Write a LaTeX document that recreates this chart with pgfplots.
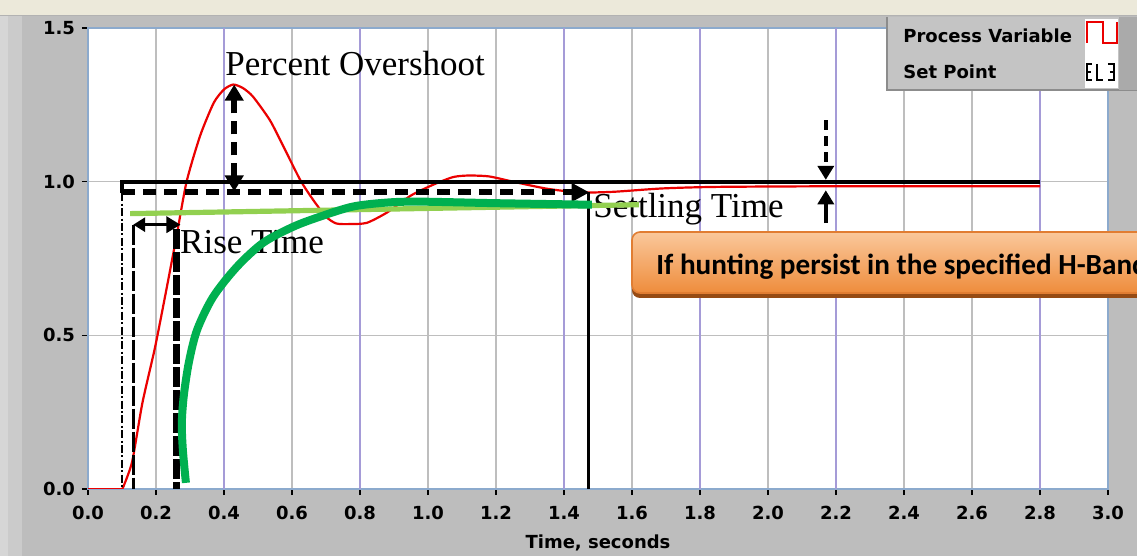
\documentclass[border=0pt]{standalone}
\usepackage{fontspec}
\setmainfont{Liberation Serif}
\newfontfamily\lv{DejaVu Sans}
\newfontfamily\calfont{Carlito}
\usepackage{pgfplots}
\pgfplotsset{compat=1.18}
\usetikzlibrary{arrows.meta}
\definecolor{panel}{RGB}{189,189,189}
\definecolor{beige}{RGB}{236,233,218}
\definecolor{lightstrip}{RGB}{214,214,214}
\definecolor{midstrip}{RGB}{203,203,203}
\definecolor{gridgray}{RGB}{190,190,190}
\definecolor{gridpurple}{RGB}{165,155,215}
\definecolor{frameblue}{RGB}{140,170,205}
\definecolor{pvred}{RGB}{235,0,0}
\definecolor{lgreen}{RGB}{146,208,80}
\definecolor{dgreen}{RGB}{0,176,80}
\definecolor{calltop}{RGB}{250,200,155}
\definecolor{callbot}{RGB}{238,140,60}
\definecolor{callborder}{RGB}{225,125,50}
\definecolor{callshadow}{RGB}{150,75,20}
\definecolor{leggray}{RGB}{196,196,196}
\definecolor{legborder}{RGB}{140,140,140}
\begin{document}
\begin{tikzpicture}
\useasboundingbox (0,0) rectangle (568.5bp,278bp);
\clip (0,0) rectangle (568.5bp,278bp);
\begin{scope}[x=0.5bp,y=-0.5bp,yshift=278bp]
  \fill[panel] (0,0) rectangle (1137,556);
  \fill[beige] (0,0) rectangle (1137,15);
  \fill[lightstrip] (0,15) rectangle (8,556);
  \fill[midstrip] (8,15) rectangle (22,556);
  \draw[gray!60, line width=0.8bp] (0,15.5) -- (1137,15.5);
\end{scope}
\begin{axis}[
  at={(44bp,33.5bp)}, anchor=south west,
  scale only axis, width=510bp, height=230.5bp,
  xmin=0, xmax=3, ymin=0, ymax=1.5,
  xtick={0,0.2,0.4,0.6,0.8,1,1.2,1.4,1.6,1.8,2,2.2,2.4,2.6,2.8,3},
  ytick={0,0.5,1,1.5},
  xtick pos=bottom, ytick pos=left,
  tick align=outside, major tick length=3bp,
  tick style={black, line width=0.8bp},
  grid=major, major grid style={gridgray, line width=0.6bp},
  axis line style={frameblue, line width=0.7bp},
  axis background/.style={fill=white},
  /pgf/number format/assume math mode=true,
  /pgf/number format/.cd, fixed, fixed zerofill, precision=1, /pgfplots/.cd,
  tick label style={font=\lv\bfseries\fontsize{9bp}{10bp}\selectfont},
  xticklabel style={yshift=-2bp},
  xlabel={Time, seconds},
  xlabel style={font=\lv\bfseries\fontsize{9bp}{10bp}\selectfont, at={(axis description cs:0.5,-0.117)}, anchor=center},
]
% purple grid lines
\addplot[gridpurple, line width=0.6bp, ycomb, forget plot, mark=none] coordinates {(0.4,1.5) (0.8,1.5) (1.4,1.5) (1.8,1.5) (2.2,1.5) (2.8,1.5)};
% process variable
\addplot[pvred, line width=1.1bp, mark=none] coordinates {(0,0) (0.10,0)};
\addplot[pvred, line width=1.1bp, mark=none, smooth, tension=0.4] coordinates {
(0.10,0) (0.105,0.01) (0.13,0.09) (0.16,0.28) (0.197,0.46) (0.229,0.64) (0.26,0.82) (0.29,1.00)
(0.33,1.15) (0.37,1.257) (0.40,1.30) (0.427,1.316) (0.455,1.305) (0.485,1.277) (0.535,1.20) (0.575,1.114)
(0.624,1.006) (0.662,0.941) (0.70,0.886) (0.73,0.864) (0.77,0.862) (0.82,0.866) (0.88,0.90) (0.95,0.955)
(1.015,0.99) (1.074,1.015) (1.12,1.02) (1.18,1.017) (1.25,1.00) (1.35,0.977) (1.447,0.965) (1.545,0.967)
(1.69,0.978) (1.85,0.983) (2.2,0.985) (2.8,0.985)};
% annotations
\draw[black, line width=2bp] (axis cs:0.1,0.962) -- (axis cs:0.1,1.0) -- (axis cs:2.8,1.0);
\draw[black, line width=0.7bp, dash pattern=on 4bp off 1.2bp on 1bp off 1.2bp] (axis cs:0.1,0.962) -- (axis cs:0.1,0);
\draw[black, line width=3bp, dash pattern=on 6.5bp off 4bp, -{Triangle[length=9bp,width=9bp]}] (axis cs:0.1,0.965) -- (axis cs:1.475,0.965);
\draw[black, line width=2.8bp, dash pattern=on 6.5bp off 4bp, {Triangle[length=8bp,width=9bp]}-{Triangle[length=8bp,width=9bp]}] (axis cs:0.43,0.968) -- (axis cs:0.43,1.316);
\draw[black, line width=1.6bp, dash pattern=on 10bp off 1.5bp] (axis cs:0.133,0.86) -- (axis cs:0.133,0);
\draw[black, line width=3.3bp, dash pattern=on 10bp off 1.5bp] (axis cs:0.261,0.845) -- (axis cs:0.261,0);
\draw[black, line width=1.6bp, {Triangle[length=6bp,width=7bp]}-{Triangle[length=7bp,width=8bp]}] (axis cs:0.133,0.86) -- (axis cs:0.272,0.86);
\draw[black, line width=1.5bp] (axis cs:1.473,0.965) -- (axis cs:1.473,0);
\draw[black, line width=2bp, dash pattern=on 5bp off 3bp, -{Triangle[length=7bp,width=8bp]}] (axis cs:2.17,1.2) -- (axis cs:2.17,1.006);
\draw[black, line width=2bp, -{Triangle[length=7bp,width=8bp]}] (axis cs:2.17,0.865) -- (axis cs:2.17,0.972);
% texts
\node[anchor=base west, inner sep=0, font=\fontsize{17.5bp}{20bp}\selectfont] at (axis cs:0.403,1.345) {Percent Overshoot};
\node[anchor=base west, inner sep=0, font=\fontsize{17.5bp}{20bp}\selectfont] at (axis cs:0.270,0.765) {Rise Time};
\node[anchor=base west, inner sep=0, font=\fontsize{17.5bp}{20bp}\selectfont] at (axis cs:1.485,0.883) {Settling Time};
% green hand-drawn lines
\addplot[lgreen, line width=2.6bp, mark=none] coordinates {(0.124,0.896) (1.62,0.925)};
\addplot[dgreen, line width=4bp, smooth, tension=0.5, mark=none] coordinates {
(0.288,0.020) (0.279,0.127) (0.276,0.215) (0.282,0.306) (0.297,0.414) (0.321,0.518) (0.368,0.625)
(0.438,0.723) (0.515,0.801) (0.603,0.853) (0.682,0.886) (0.779,0.919) (0.879,0.932) (0.976,0.935)
(1.2,0.930) (1.482,0.925)};
\end{axis}
\begin{scope}[x=0.5bp,y=-0.5bp,yshift=278bp]
  % callout
  \fill[callshadow, rounded corners=4bp] (632,238) rectangle (1175,298);
  \shade[top color=calltop, bottom color=callbot, draw=callborder, line width=0.8bp, rounded corners=4bp] (632,232) rectangle (1175,293);
  \node[anchor=base west, inner sep=0, font=\calfont\bfseries\fontsize{14.6bp}{16bp}\selectfont] at (656,275) {If hunting persist in the specified H-Band};
  % legend
  \fill[leggray] (887,17) rectangle (1137,90);
  \draw[legborder, line width=1bp] (887,17) -- (887,90) -- (1137,90);
  \fill[white] (1085,19) rectangle (1118,88);
  \draw[pvred, line width=1.3bp] (1087,43) -- (1087,22) -- (1103,22) -- (1103,43) -- (1117,43) -- (1117,22);
  \draw[black, line width=1bp] (1092,64) -- (1087,64) -- (1087,80) -- (1092,80) (1087,72) -- (1091,72);
  \draw[black, line width=1bp] (1097,64) -- (1097,80) -- (1103,80);
  \draw[black, line width=1bp] (1108,64) -- (1114,64) -- (1114,80) -- (1108,80) (1110,72) -- (1114,72);
  \fill[panel!90!black] (1119,17) rectangle (1137,90);
  \node[anchor=west, inner sep=0, font=\lv\bfseries\fontsize{9bp}{10bp}\selectfont] at (903,36) {Process Variable};
  \node[anchor=west, inner sep=0, font=\lv\bfseries\fontsize{9bp}{10bp}\selectfont] at (903,72) {Set Point};
\end{scope}
\end{tikzpicture}
\end{document}
